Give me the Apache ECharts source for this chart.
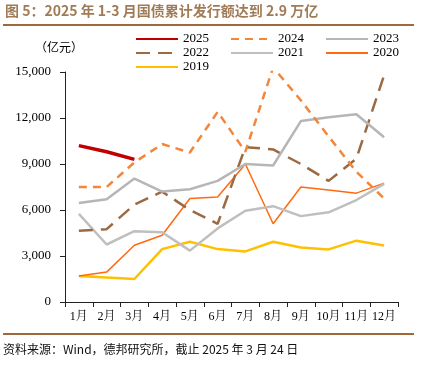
<!DOCTYPE html>
<html><head><meta charset="utf-8">
<script src="https://cdn.jsdelivr.net/npm/echarts@6/dist/echarts.min.js"></script>
<style>html,body{margin:0;padding:0;background:#fff}#c{width:428px;height:373px}</style>
</head><body><div id="c"></div>
<script>
const months = ['1月','2月','3月','4月','5月','6月','7月','8月','9月','10月','11月','12月'];
const yTicks = [0, 3000, 6000, 9000, 12000, 15000];
const s2025 = [10200, 9800, 9300];
const s2024 = [7500, 7500, 9100, 10300, 9750, 12400, 9800, 15300, 13150, 10800, 8500, 6750];
const s2023 = [6450, 6700, 8050, 7200, 7350, 7900, 9000, 8900, 11800, 12050, 12250, 10750];
const s2022 = [4650, 4750, 6350, 7200, 6000, 5100, 10100, 9950, 9000, 7900, 9350, 14800];
const s2021 = [5750, 3750, 4620, 4550, 3350, 4800, 5950, 6250, 5600, 5850, 6650, 7700];
const s2020 = [1700, 1950, 3700, 4350, 6750, 6850, 9000, 5100, 7500, 7300, 7100, 7750];
const s2019 = [1700, 1600, 1500, 3450, 3930, 3450, 3300, 3930, 3550, 3430, 4000, 3680];

const serif = 'Times New Roman, Liberation Serif, Noto Serif CJK SC, Noto Sans CJK SC, serif';
const chart = echarts.init(document.getElementById('c'), null, {renderer:'canvas'});
function ser(name, data, color, width, type, z){
  return {name, type:'line', data, symbol:'none', z: z||2, legendIcon:'none',
    lineStyle:{color, width, type: type||'solid'}, itemStyle:{color}};
}
const legendCommon = {orient:'vertical', itemWidth:42, itemHeight:14, itemGap:1, padding:0, top:32.5,
  itemStyle:{opacity:0},
  textStyle:{fontFamily:serif, fontSize:13, color:'#000'}};
chart.setOption({
  animation:false,
  grid:{left:65, right:30, top:72, bottom:71},
  legend:[
    Object.assign({left:135, data:['2025','2022','2019']}, legendCommon),
    Object.assign({left:230, data:['2024','2021']}, legendCommon),
    Object.assign({left:325, data:['2023','2020']}, legendCommon)
  ],
  xAxis:{type:'category', data:months, boundaryGap:true,
    axisLine:{lineStyle:{color:'#222', width:1}},
    axisTick:{show:true, length:5, inside:false, lineStyle:{color:'#222'}},
    axisLabel:{fontFamily:serif, fontSize:12, color:'#000', margin:9, interval:0}},
  yAxis:{type:'value', min:yTicks[0], max:yTicks[yTicks.length-1], interval:3000,
    axisLine:{show:true, lineStyle:{color:'#222', width:1}},
    axisTick:{show:true, length:5, lineStyle:{color:'#222'}},
    splitLine:{show:false},
    axisLabel:{fontFamily:serif, fontSize:13, color:'#000', margin:14,
      formatter:v=>v.toLocaleString('en-US')}},
  series:[
    ser('2019', s2019, '#ffc000', 2.5),
    ser('2020', s2020, '#ff6a10', 1.5),
    ser('2021', s2021, '#bfbfbf', 2.5),
    ser('2022', s2022, '#9b6a43', 2.5, [14,8]),
    ser('2023', s2023, '#b6b6b6', 2.5),
    ser('2024', s2024, '#f2873b', 2.5, [8,6]),
    ser('2025', s2025, '#c00000', 3.5, 'solid', 5)
  ],
  graphic:[
    {type:'text', left:5, top:4, style:{text:'图 5：2025 年 1-3 月国债累计发行额达到 2.9 万亿',
      font:'bold 14px "Noto Sans CJK SC","Liberation Sans",sans-serif', fill:'#a07b56'}},
    {type:'line', shape:{x1:3, y1:25, x2:414, y2:25}, style:{stroke:'#a0693c', lineWidth:2}},
    {type:'text', left:35, top:41, style:{text:'（亿元）', font:'12px "Noto Sans CJK SC",serif', fill:'#000'}},
    {type:'line', shape:{x1:3, y1:334, x2:414, y2:334}, style:{stroke:'#a0693c', lineWidth:2}},
    {type:'text', left:3, top:343, style:{text:'资料来源：Wind，德邦研究所，截止 2025 年 3 月 24 日',
      font:'12px "Noto Sans CJK SC","Liberation Sans",sans-serif', fill:'#111'}}
  ]
});
</script></body></html>
